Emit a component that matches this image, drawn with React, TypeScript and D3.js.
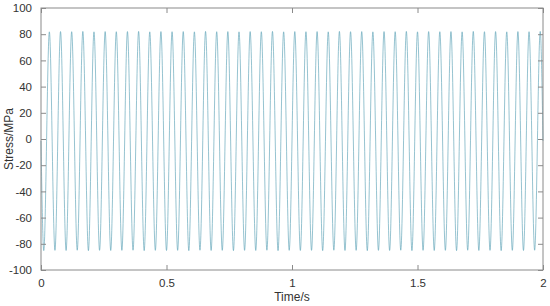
import { useEffect, useRef } from 'react';
import * as d3 from 'd3';

// peak / trough readings of the stress signal (s, MPa)
const troughTimes = [
  0.0111, 0.0556, 0.1000, 0.1444, 0.1889, 0.2333, 0.2778, 0.3222, 0.3667, 0.4111,
  0.4556, 0.5000, 0.5444, 0.5889, 0.6333, 0.6778, 0.7222, 0.7667, 0.8111, 0.8556,
  0.9000, 0.9444, 0.9889, 1.0333, 1.0778, 1.1222, 1.1667, 1.2111, 1.2556, 1.3000,
  1.3444, 1.3889, 1.4333, 1.4778, 1.5222, 1.5667, 1.6111, 1.6556, 1.7000, 1.7444,
  1.7889, 1.8333, 1.8778, 1.9222, 1.9667,
];
const troughStress = [
  -85.2, -85.0, -85.1, -84.9, -85.2, -85.0, -85.1, -85.0, -84.9, -85.2,
  -85.0, -85.1, -85.0, -85.2, -84.9, -85.1, -85.0, -85.2, -85.0, -85.1,
  -84.9, -85.2, -85.0, -85.1, -85.0, -85.2, -84.9, -85.1, -85.0, -85.2,
  -85.0, -85.1, -84.9, -85.2, -85.0, -85.1, -85.0, -85.2, -84.9, -85.1,
  -85.0, -85.2, -85.0, -85.1, -84.9,
];
const peakTimes = [
  0.0333, 0.0778, 0.1222, 0.1667, 0.2111, 0.2556, 0.3000, 0.3444, 0.3889, 0.4333,
  0.4778, 0.5222, 0.5667, 0.6111, 0.6556, 0.7000, 0.7444, 0.7889, 0.8333, 0.8778,
  0.9222, 0.9667, 1.0111, 1.0556, 1.1000, 1.1444, 1.1889, 1.2333, 1.2778, 1.3222,
  1.3667, 1.4111, 1.4556, 1.5000, 1.5444, 1.5889, 1.6333, 1.6778, 1.7222, 1.7667,
  1.8111, 1.8556, 1.9000, 1.9444, 1.9889,
];
const peakStress = [
  81.8, 82.0, 81.9, 82.1, 81.8, 82.0, 81.9, 82.0, 82.1, 81.8,
  82.0, 81.9, 82.0, 81.8, 82.1, 81.9, 82.0, 81.8, 82.0, 81.9,
  82.1, 81.8, 82.0, 81.9, 82.0, 81.8, 82.1, 81.9, 82.0, 81.8,
  82.0, 81.9, 82.1, 81.8, 82.0, 81.9, 82.0, 81.8, 82.1, 81.9,
  82.0, 81.8, 82.0, 81.9, 82.1,
];
const startPoint = [0, -1.5];
const endPoint = [2, -1.5];

const xTicks = [0, 0.5, 1, 1.5, 2];
const yTicks = [-100, -80, -60, -40, -20, 0, 20, 40, 60, 80, 100];

export default function App() {
  const svgRef = useRef<SVGSVGElement>(null);

  useEffect(() => {
    const W = 550, H = 306;
    const margin = { top: 8, right: 7, bottom: 36, left: 41 };
    const width = W - margin.left - margin.right;
    const height = H - margin.top - margin.bottom;

    const svg = d3.select(svgRef.current);
    svg.selectAll('*').remove();

    const points: [number, number][] = [[startPoint[0], startPoint[1]]];
    troughTimes.forEach((t, i) => points.push([t, troughStress[i]]));
    peakTimes.forEach((t, i) => points.push([t, peakStress[i]]));
    points.push([endPoint[0], endPoint[1]]);
    points.sort((a, b) => a[0] - b[0]);

    const x = d3.scaleLinear().domain([0, 2]).range([0, width]);
    const y = d3.scaleLinear().domain([-100, 100]).range([height, 0]);

    const g = svg.append('g').attr('transform', `translate(${margin.left},${margin.top})`);

    // signal
    const line = d3.line<[number, number]>()
      .x(d => x(d[0]))
      .y(d => y(d[1]))
      .curve(d3.curveMonotoneX);

    g.append('path')
      .datum(points)
      .attr('fill', 'none')
      .attr('stroke', '#5da3b6')
      .attr('stroke-width', 0.65)
      .attr('d', line);

    const axisColor = '#8a8a8a';
    const textColor = '#333';
    const font = 'Arial, "Liberation Sans", sans-serif';

    // box
    g.append('rect')
      .attr('x', 0).attr('y', 0)
      .attr('width', width).attr('height', height)
      .attr('fill', 'none')
      .attr('stroke', axisColor)
      .attr('stroke-width', 1);

    const tickLen = 5;
    const plain = (d: d3.NumberValue) => String(d);

    // bottom / top axes with inward ticks
    const xb = g.append('g').attr('transform', `translate(0,${height})`)
      .call(d3.axisBottom(x).tickValues(xTicks).tickSizeInner(-tickLen).tickSizeOuter(0).tickPadding(9).tickFormat(plain));
    const xt = g.append('g')
      .call(d3.axisTop(x).tickValues(xTicks).tickSizeInner(-tickLen).tickSizeOuter(0).tickFormat(() => ''));

    const yl = g.append('g')
      .call(d3.axisLeft(y).tickValues(yTicks).tickSizeInner(-tickLen).tickSizeOuter(0).tickPadding(9).tickFormat(plain));
    const yr = g.append('g').attr('transform', `translate(${width},0)`)
      .call(d3.axisRight(y).tickValues(yTicks).tickSizeInner(-tickLen).tickSizeOuter(0).tickFormat(() => ''));

    [xb, xt, yl, yr].forEach(a => {
      a.select('.domain').remove();
      a.selectAll('line').attr('stroke', axisColor);
      a.selectAll('text')
        .attr('fill', textColor)
        .style('font-family', font)
        .style('font-size', '11.5px');
    });

    // axis titles
    svg.append('text')
      .attr('x', margin.left + width / 2)
      .attr('y', H - 5)
      .attr('text-anchor', 'middle')
      .attr('fill', textColor)
      .style('font-family', font)
      .style('font-size', '12px')
      .text('Time/s');

    svg.append('text')
      .attr('transform', `translate(13,${margin.top + height / 2}) rotate(-90)`)
      .attr('text-anchor', 'middle')
      .attr('fill', textColor)
      .style('font-family', font)
      .style('font-size', '12px')
      .text('Stress/MPa');
  }, []);

  return (
    <div style={{ position: 'absolute', left: 0, top: 0, background: '#fff' }}>
      <svg ref={svgRef} width={550} height={306} style={{ display: 'block' }}></svg>
    </div>
  );
}
